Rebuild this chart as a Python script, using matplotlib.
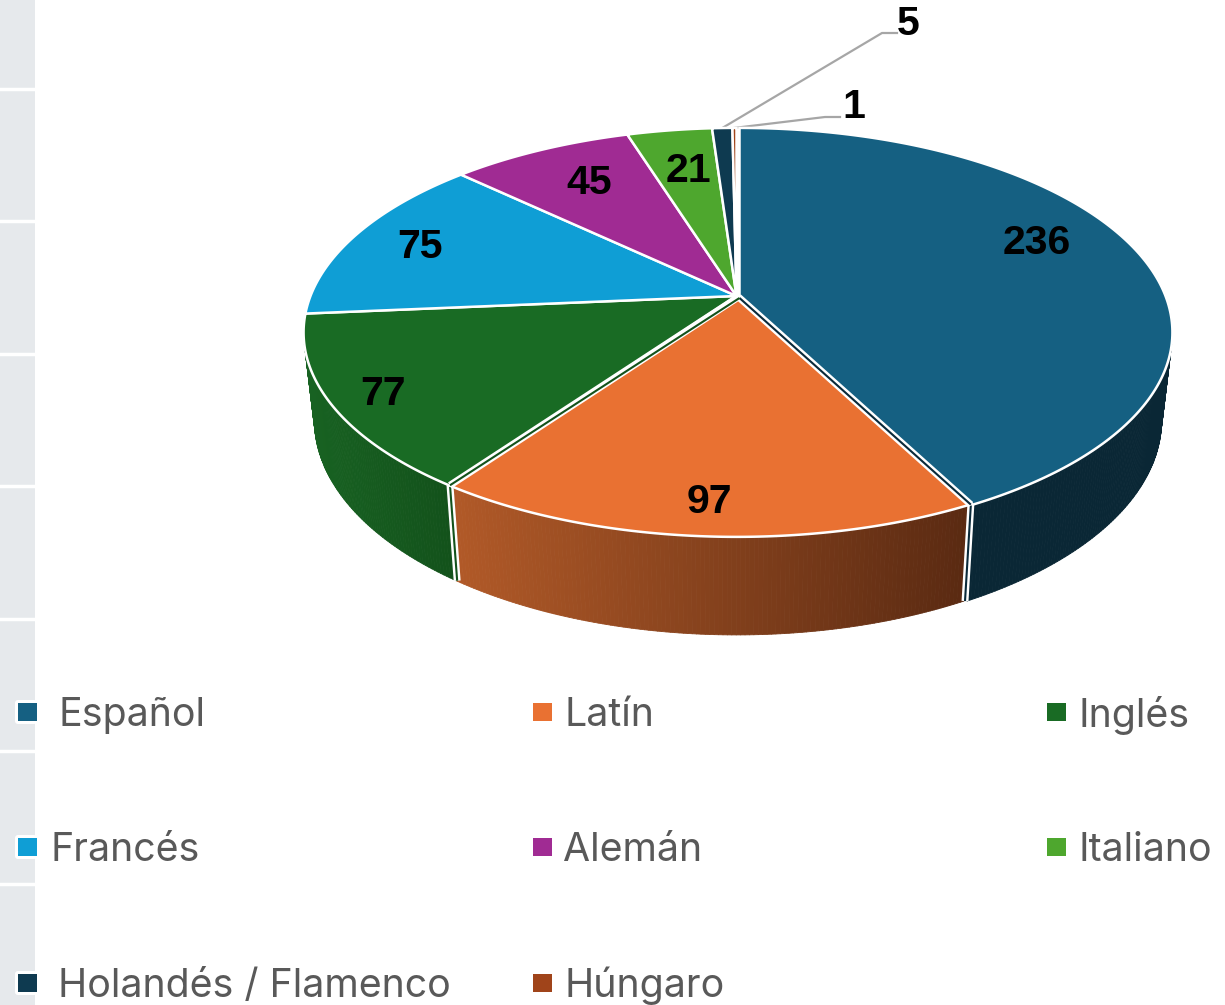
#!/usr/bin/python3
# 3D looking pie, drawn by hand since matplotlib pie has no perspective
import numpy as np
import matplotlib
matplotlib.use('Agg')

import matplotlib.pyplot as plt
from matplotlib.patches import Polygon, Rectangle, FancyBboxPatch
from matplotlib.collections import PolyCollection
from matplotlib.colors import to_rgb

languages = ['Español', 'Latín', 'Inglés', 'Francés', 'Alemán', 'Italiano',
             'Holandés / Flamenco', 'Húngaro']
counts = [236, 97, 77, 75, 45, 21, 5, 1]
colors = ['#156082', '#e97132', '#196b24', '#0f9ed5', '#a02b93', '#4ea72e',
          '#0e3a50', '#a0441a']
# side wall colour, left and right end (only the three front slices show one)
wall_left = ['#0a2a3a', '#b25a28', '#186222']
wall_right = ['#0a2735', '#5a2a12', '#13521b']

# label positions in pixels
label_pos = [(1037, 239), (709, 498), (383, 390), (420, 243), (589, 179),
             (688, 167), (908, 20), (854, 103)]
# legend: swatch x, text x, row y
legend_swatch_x = [18, 533, 1047, 18, 533, 1047, 18, 533]
legend_text_x = [58, 564, 1078, 50, 563, 1078, 58, 564]
legend_y = [711, 711, 711, 846, 846, 846, 982, 982]
strip_breaks = [89, 221, 354, 486, 619, 751, 884]

# pie projection
cx, cy = 736.5, 296.0
kp, ax_x, ax_y = 0.178, 426.0, 198.0
wall_sx, wall_sy, wall_drop = 0.975, 1.05, 86.0


def proj(t, bottom=False):
    # t is the angle counted from 3 o'clock, radians
    d = 1 + kp * np.sin(t)
    x = ax_x * np.cos(t) / d
    y = ax_y * np.sin(t) / d
    if bottom:
        return cx + wall_sx * x, cy + wall_drop - wall_sy * y
    return cx + x, cy - y


fig = plt.figure(figsize=(12.25, 10.05), dpi=100)
ax = fig.add_axes([0, 0, 1, 1])
ax.set_xlim(0, 1225)
ax.set_ylim(1005, 0)
ax.axis('off')

# grey strip left of the chart
ax.add_patch(Rectangle((0, 0), 35, 1005, fc='#e6e9ec', ec='none', zorder=0))
for y in strip_breaks:
    ax.plot([0, 35], [y, y], color='white', lw=2.5, zorder=0.5)

total = sum(counts)
edges = np.cumsum([0] + counts) / total * 2 * np.pi
starts = np.pi / 2 - edges[:-1]
ends = np.pi / 2 - edges[1:]
shift = [3, 0, 0, 0, 0, 0, 0, 0]

# walls first
for i in range(len(wall_left)):
    ts = np.arange(starts[i], ends[i], -np.radians(0.5))
    ts = np.append(ts, ends[i])
    quads, fc = [], []
    c0, c1 = np.array(to_rgb(wall_left[i])), np.array(to_rgb(wall_right[i]))
    x_lo, x_hi = sorted([proj(starts[i])[0], proj(ends[i])[0]])
    for a, b in zip(ts[:-1], ts[1:]):
        if np.sin((a + b) / 2) > 0.1:
            continue
        xa, ya = proj(a)
        xb, yb = proj(b)
        xc, yc = proj(b, bottom=True)
        xd, yd = proj(a, bottom=True)
        quads.append([(xa + shift[i], ya), (xb + shift[i], yb),
                      (xc + shift[i], yc), (xd + shift[i], yd)])
        f = np.clip((xa - x_lo) / (x_hi - x_lo), 0, 1)
        fc.append(c0 + (c1 - c0) * f)
    ax.add_collection(PolyCollection(quads, facecolors=fc, edgecolors=fc,
                                     linewidths=0.6, zorder=1))

# the two cuts at the front, white / dark / white
for i, dark in [(1, wall_left[0]), (2, wall_right[2])]:
    x0, y0 = proj(starts[i])
    x1, y1 = proj(starts[i], bottom=True)
    ax.plot([x0 + 1, x1 + 1], [y0, y1], color='white', lw=5,
            zorder=3, solid_capstyle='butt')
    ax.plot([x0 + 1, x1 + 1], [y0, y1], color=dark, lw=1.5, zorder=3.1,
            solid_capstyle='butt')

# top faces
for i in range(len(counts)):
    ts = np.linspace(starts[i], ends[i], 200)
    xs, ys = proj(ts)
    pts = np.column_stack([np.r_[cx, xs] + shift[i], np.r_[cy, ys]])
    ax.add_patch(Polygon(pts, closed=True, fc=colors[i], ec='white', lw=1.8,
                         joinstyle='miter', zorder=4))

# dark slivers along the radial cuts
for i, dark in [(1, wall_left[0]), (2, wall_right[2])]:
    x0, y0 = proj(starts[i])
    ax.plot([cx + 2, x0 + 1], [cy + 1, y0], color='white', lw=5, zorder=5,
            solid_capstyle='butt')
    ax.plot([cx + 3, x0 + 1], [cy + 2, y0], color=dark, lw=1.5, zorder=5.1,
            solid_capstyle='butt')

# leader lines for the two small slices
for i, elbow, stop in [(6, (882, 33), (897, 33)), (7, (825, 117), (840, 117))]:
    xm, ym = proj((starts[i] + ends[i]) / 2)
    ax.plot([xm, elbow[0], stop[0]], [ym, elbow[1], stop[1]], color='#a6a6a6',
            lw=1.6, zorder=3.5)

# value labels
for v, (x, y) in zip(counts, label_pos):
    ax.text(x, y, str(v), ha='center', va='center_baseline', fontsize=29.5,
            fontweight='bold', family='Liberation Sans', color='black', zorder=6)

# legend
for i, name in enumerate(languages):
    y = legend_y[i]
    sx = legend_swatch_x[i]
    ax.add_patch(FancyBboxPatch((sx - 3, y - 11), 22, 24,
                                boxstyle='round,pad=0,rounding_size=3',
                                fc='white', ec='none', zorder=6))
    ax.add_patch(Rectangle((sx, y - 8), 19, 18, fc=colors[i], ec='none', zorder=7))
    ax.text(legend_text_x[i], y, name, ha='left', va='center_baseline',
            fontsize=28.3, family='Inter', color='#595959', zorder=7)

fig.savefig('out.png', dpi=100)
